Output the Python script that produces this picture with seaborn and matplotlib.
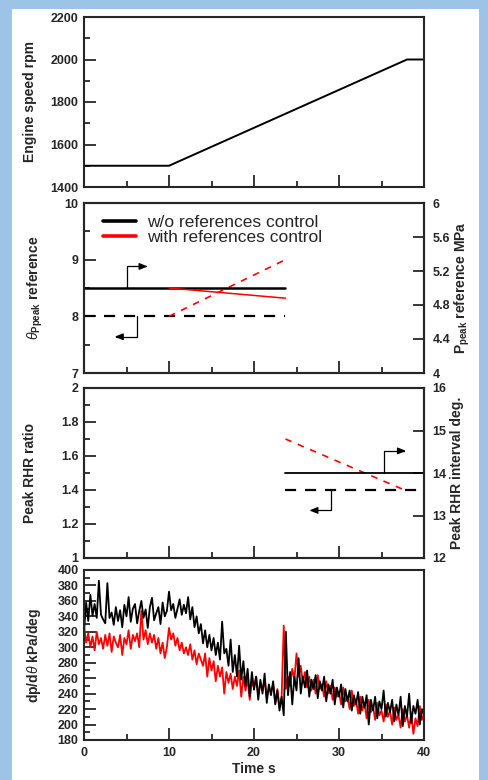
import numpy as np
import pandas as pd
import matplotlib
matplotlib.use("Agg")
import matplotlib.pyplot as plt
from matplotlib.patches import Rectangle
from matplotlib.ticker import MultipleLocator, FormatStrFormatter
from matplotlib.lines import Line2D
import seaborn as sns

# ---------------- data ----------------
# Panel 1: engine speed
t_speed = [0, 10, 38, 40]
speed_rpm = [1500, 1500, 2000, 2000]

# Panel 2: references (theta on left axis, P on right axis)
t_ref = [0, 10, 23.7]
theta_wo = [8.0, 8.0, 8.0]
p_wo = [5.0, 5.0, 5.0]
t_ref_with = [10, 23.7]
theta_with = [8.0, 9.0]
p_with = [5.0, 4.88]

# Panel 3: peak RHR
t_rhr = [23.7, 40]
ratio_wo = [1.4, 1.4]
interval_wo = [14.0, 14.0]
t_rhr_with = [23.7, 37.7]
ratio_with = [1.7, 1.4]

t_dp = [i * 0.25 for i in range(161)]
dp_wo = [
    320, 358, 334, 368, 341, 356, 338, 386,
    342, 336, 331, 383, 338, 345, 329, 352,
    334, 348, 326, 355, 340, 365, 333, 350,
    356, 331, 347, 360, 338, 349, 325, 352,
    364, 335, 344, 352, 330, 358, 340, 347,
    372, 348, 356, 338, 350, 362, 342, 355,
    344, 365, 336, 352, 326, 340, 318, 330,
    305, 322, 300, 316, 296, 312, 290, 306,
    284, 333, 292, 298, 276, 310, 268, 290,
    262, 302, 258, 282, 250, 272, 236, 268,
    245, 262, 232, 258, 240, 266, 228, 252,
    238, 256, 226, 244, 218, 236, 212, 320,
    238, 268, 226, 262, 244, 286, 240, 262,
    248, 270, 236, 258, 246, 264, 234, 256,
    244, 262, 230, 252, 240, 258, 226, 248,
    236, 252, 222, 246, 230, 244, 218, 238,
    226, 242, 214, 236, 222, 238, 200, 232,
    218, 236, 208, 230, 220, 244, 210, 228,
    216, 232, 204, 226, 212, 236, 198, 224,
    210, 240, 202, 224, 214, 232, 200, 220,
    212,
]
dp_with = [
    328, 306, 318, 300, 314, 296, 320, 304,
    312, 298, 316, 302, 318, 294, 314, 306,
    300, 316, 290, 312, 304, 322, 298, 316,
    308, 318, 300, 347, 310, 322, 304, 318,
    306, 316, 298, 312, 292, 306, 286, 300,
    325, 310, 318, 302, 312, 296, 306, 292,
    300, 290, 304, 284, 296, 278, 292, 284,
    276, 292, 262, 286, 270, 282, 256, 276,
    262, 274, 240, 268, 254, 266, 246, 262,
    250, 270, 236, 262, 244, 258, 232, 256,
    248, 262, 238, 254, 244, 258, 234, 248,
    242, 252, 228, 246, 222, 236, 328, 246,
    262, 250, 272, 258, 292, 262, 276, 254,
    268, 248, 262, 244, 258, 240, 264, 246,
    252, 236, 256, 240, 250, 232, 248, 236,
    242, 226, 248, 230, 236, 220, 244, 224,
    232, 214, 236, 218, 228, 208, 232, 216,
    224, 206, 228, 212, 218, 204, 226, 210,
    218, 200, 222, 206, 212, 196, 220, 204,
    212, 196, 214, 188, 208, 198, 224, 206,
    214,
]

# annotation arrows (start on line -> end), axis data coords
arrow2_right = ((5.0, 8.5), (7.5, 8.88))
arrow2_left = ((6.2, 8.0), (3.6, 7.64))
arrow3_right = ((35.3, 1.5), (37.9, 1.63))
arrow3_left = ((29.1, 1.4), (26.5, 1.28))

# ---------------- style ----------------
sns.set_style("ticks")
plt.rcParams["font.family"] = ["Liberation Sans", "DejaVu Sans"]
plt.rcParams["mathtext.fontset"] = "custom"
plt.rcParams["mathtext.rm"] = "Liberation Sans"
plt.rcParams["mathtext.bf"] = "Liberation Sans:bold"
plt.rcParams["mathtext.it"] = "Liberation Sans:italic"

BLACK = "#000000"
RED = "#ff0000"
TICKFS = 9
LABFS = 10

fig = plt.figure(figsize=(4.88, 7.80), dpi=100)
fig.patch.set_facecolor("#9dc3e6")
fig.add_artist(Rectangle((12 / 488, 0), (479 - 12) / 488, (780 - 9) / 780,
                         transform=fig.transFigure, facecolor="white",
                         edgecolor="none", zorder=-10))

L = 84 / 488
W = 340 / 488
H = 170 / 780
tops = [17, 203, 388, 570]
axes = [fig.add_axes([L, (780 - t - 170) / 780, W, H]) for t in tops]
fmt = FormatStrFormatter("%g")


def style_left(ax, major, minor, show_x_labels=False):
    ax.set_xlim(0, 40)
    ax.xaxis.set_major_locator(MultipleLocator(10))
    ax.xaxis.set_minor_locator(MultipleLocator(5))
    ax.yaxis.set_major_locator(MultipleLocator(major))
    ax.yaxis.set_minor_locator(MultipleLocator(minor))
    ax.yaxis.set_major_formatter(fmt)
    ax.tick_params(axis="both", which="major", direction="in", length=8.5,
                   width=1.3, labelsize=TICKFS, top=False, right=False)
    ax.tick_params(axis="both", which="minor", direction="in", length=4.5,
                   width=1.3, top=False, right=False)
    ax.tick_params(axis="y", which="major", pad=4)
    ax.tick_params(axis="x", which="major", pad=5)
    if not show_x_labels:
        ax.tick_params(axis="x", labelbottom=False)
    for s in ax.spines.values():
        s.set_visible(True)
        s.set_linewidth(1.5)


def style_right(ax2, major):
    ax2.yaxis.set_major_locator(MultipleLocator(major))
    ax2.yaxis.set_major_formatter(fmt)
    ax2.tick_params(axis="y", which="major", direction="in", length=8,
                    width=1.3, labelsize=TICKFS, pad=6)
    ax2.tick_params(axis="y", which="minor", length=0)
    for s in ax2.spines.values():
        s.set_linewidth(1.5)


def bent_arrow(ax, start, end):
    ax.annotate("", xy=end, xytext=start,
                arrowprops=dict(arrowstyle="-|>,head_length=0.5,head_width=0.2",
                                color=BLACK, lw=0.9, shrinkA=0, shrinkB=0,
                                connectionstyle="angle,angleA=90,angleB=0,rad=0"))

# ---------------- panel 1 ----------------
ax = axes[0]
sns.lineplot(x=t_speed, y=speed_rpm, ax=ax, color=BLACK, lw=1.4)
ax.set_ylim(1400, 2200)
style_left(ax, 200, 100)
ax.set_ylabel("Engine speed rpm", fontsize=LABFS, fontweight="bold")
ax.yaxis.set_label_coords(-0.138, 0.5)

# ---------------- panel 2 ----------------
ax = axes[1]
sns.lineplot(x=t_ref, y=theta_wo, ax=ax, color=BLACK, lw=1.6, linestyle=(0, (5, 4)))
sns.lineplot(x=t_ref_with, y=theta_with, ax=ax, color=RED, lw=1.2, linestyle=(0, (4, 4)))
ax.set_ylim(7, 10)
style_left(ax, 1, 0.5)
ax.set_ylabel(r"$\theta_{\mathbf{Ppeak}}$ reference", fontsize=LABFS, fontweight="bold")
ax.yaxis.set_label_coords(-0.115, 0.5)
bent_arrow(ax, *arrow2_right)
bent_arrow(ax, *arrow2_left)

ax2 = ax.twinx()
sns.lineplot(x=t_ref, y=p_wo, ax=ax2, color=BLACK, lw=1.8)
sns.lineplot(x=t_ref_with, y=p_with, ax=ax2, color=RED, lw=1.1)
ax2.set_ylim(4, 6)
style_right(ax2, 0.4)
ax2.set_ylabel(r"$\mathbf{P_{peak}}$ reference MPa", fontsize=LABFS, fontweight="bold")
ax2.yaxis.set_label_coords(1.085, 0.5)
handles = [Line2D([], [], color=BLACK, lw=2.6), Line2D([], [], color=RED, lw=2.6)]
ax2.legend(handles, ["w/o references control", "with references control"],
           loc="upper left", bbox_to_anchor=(0.02, 1.0), frameon=False,
           fontsize=12.5, handlelength=1.9, handletextpad=0.65,
           labelspacing=-0.05, borderaxespad=0.3)

# ---------------- panel 3 ----------------
ax = axes[2]
sns.lineplot(x=t_rhr, y=ratio_wo, ax=ax, color=BLACK, lw=1.6, linestyle=(0, (5, 4)))
sns.lineplot(x=t_rhr_with, y=ratio_with, ax=ax, color=RED, lw=1.2, linestyle=(0, (4, 4)))
ax.set_ylim(1, 2)
style_left(ax, 0.2, 0.1)
ax.set_ylabel("Peak RHR ratio", fontsize=LABFS, fontweight="bold")
ax.yaxis.set_label_coords(-0.138, 0.5)
bent_arrow(ax, *arrow3_right)
bent_arrow(ax, *arrow3_left)

ax3 = ax.twinx()
sns.lineplot(x=t_rhr, y=interval_wo, ax=ax3, color=BLACK, lw=1.3)
ax3.set_ylim(12, 16)
style_right(ax3, 1)
ax3.set_ylabel("Peak RHR interval deg.", fontsize=LABFS, fontweight="bold")
ax3.yaxis.set_label_coords(1.076, 0.5)

# ---------------- panel 4 ----------------
ax = axes[3]
df = pd.DataFrame({"t": t_dp, "wo": dp_wo, "with": dp_with})
sns.lineplot(data=df, x="t", y="with", ax=ax, color=RED, lw=1.3)
sns.lineplot(data=df, x="t", y="wo", ax=ax, color=BLACK, lw=1.3)
ax.set_ylim(180, 400)
style_left(ax, 20, 10, show_x_labels=True)
ax.set_ylabel(r"dp/d$\theta$ kPa/deg", fontsize=LABFS, fontweight="bold")
ax.yaxis.set_label_coords(-0.12, 0.5)
ax.set_xlabel("Time s", fontsize=LABFS, fontweight="bold")
ax.xaxis.set_label_coords(0.5, -0.13)

for a in axes + [ax2, ax3]:
    for lab in a.get_yticklabels() + a.get_xticklabels():
        lab.set_fontweight("bold")

fig.savefig("out.png", dpi=100, facecolor=fig.get_facecolor())
